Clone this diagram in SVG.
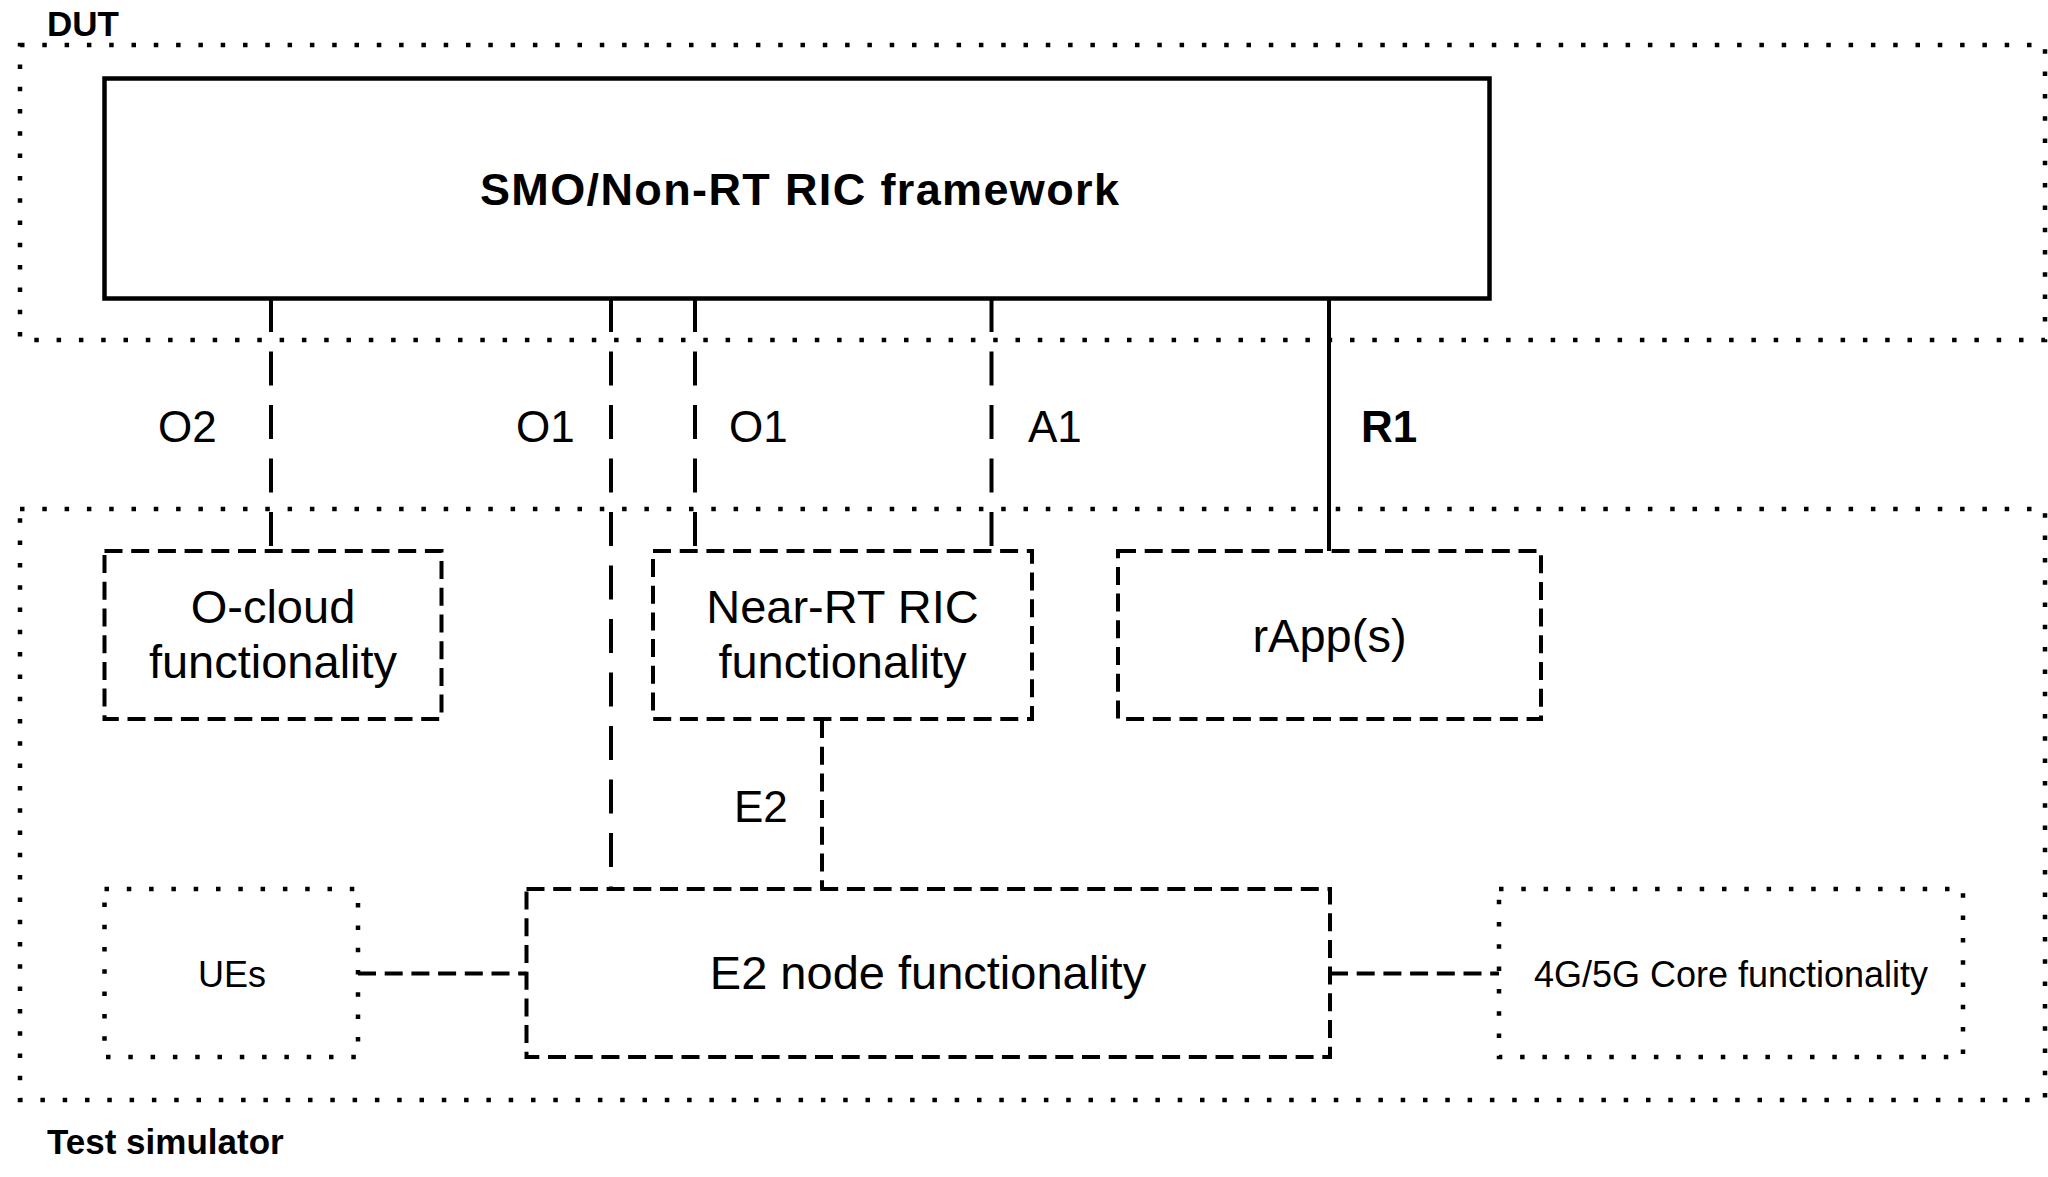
<svg xmlns="http://www.w3.org/2000/svg" width="2048" height="1177" viewBox="0 0 2048 1177">
<style>
text { font-family: "Liberation Sans", Arial, sans-serif; fill: #000; }
.title { font-size: 35px; font-weight: bold; }
.main { font-size: 45px; font-weight: bold; }
.lbl { font-size: 44px; }
.lblb { font-size: 44px; font-weight: bold; }
.node { font-size: 47px; text-anchor: middle; }
.small { font-size: 36px; text-anchor: middle; }
.dotted { fill: none; stroke: #000; stroke-width: 4.5; stroke-dasharray: 4.5 17.8; }
.dashed { fill: none; stroke: #000; stroke-width: 4; stroke-dasharray: 18 8.7; }
.solidbox { fill: none; stroke: #000; stroke-width: 4.5; }
.longdash { stroke: #000; stroke-width: 4; stroke-dasharray: 34 19.5; fill: none; }
.shortdash { stroke: #000; stroke-width: 4; stroke-dasharray: 18 8.7; fill: none; }
.solid { stroke: #000; stroke-width: 4; fill: none; }
</style>
<rect x="0" y="0" width="2048" height="1177" fill="#fff"/>

<g id="dut">
  <rect class="dotted" x="20" y="45" width="2025" height="295"/>
  <text class="title" x="47" y="36">DUT</text>
</g>
<g id="test-simulator">
  <rect class="dotted" x="20" y="509" width="2025" height="591"/>
  <text class="title" x="47" y="1154">Test simulator</text>
</g>

<g id="connectors">
  <line class="longdash" x1="271" y1="298" x2="271" y2="551"/>
  <line class="longdash" x1="611" y1="298" x2="611" y2="889"/>
  <line class="longdash" x1="695" y1="298" x2="695" y2="551"/>
  <line class="longdash" x1="991.5" y1="298" x2="991.5" y2="551"/>
  <line class="solid" x1="1329" y1="298" x2="1329" y2="551"/>
  <line class="shortdash" x1="822" y1="720" x2="822" y2="889"/>
  <line class="shortdash" x1="358" y1="973.5" x2="526.5" y2="973.5"/>
  <line class="shortdash" x1="1330" y1="973.5" x2="1499" y2="973.5"/>
  <text class="lbl" x="158" y="442">O2</text>
  <text class="lbl" x="516" y="442">O1</text>
  <text class="lbl" x="729" y="442">O1</text>
  <text class="lbl" x="1028" y="442">A1</text>
  <text class="lblb" x="1361" y="442">R1</text>
  <text class="lbl" x="734" y="822">E2</text>
</g>

<g id="smo">
  <rect class="solidbox" x="104.5" y="78.5" width="1385" height="220"/>
  <text class="main" x="480" y="205" textLength="639">SMO/Non-RT RIC framework</text>
</g>

<g id="ocloud">
  <rect class="dashed" x="104.5" y="551" width="337" height="168"/>
  <text class="node" x="273" y="623">O-cloud</text>
  <text class="node" x="273" y="678">functionality</text>
</g>

<g id="nearrt">
  <rect class="dashed" x="653" y="551" width="379" height="168"/>
  <text class="node" x="842.5" y="623">Near-RT RIC</text>
  <text class="node" x="842.5" y="678">functionality</text>
</g>

<g id="rapp">
  <rect class="dashed" x="1118" y="551" width="423" height="168"/>
  <text class="node" x="1329.5" y="652">rApp(s)</text>
</g>

<g id="ues">
  <rect class="dotted" x="104.5" y="889" width="253.5" height="168"/>
  <text class="small" x="232" y="987">UEs</text>
</g>

<g id="e2node">
  <rect class="dashed" x="526.5" y="889" width="803.5" height="168"/>
  <text class="node" x="928" y="989">E2 node functionality</text>
</g>

<g id="core">
  <rect class="dotted" x="1499" y="889" width="464" height="168"/>
  <text class="small" x="1731" y="987">4G/5G Core functionality</text>
</g>
</svg>
